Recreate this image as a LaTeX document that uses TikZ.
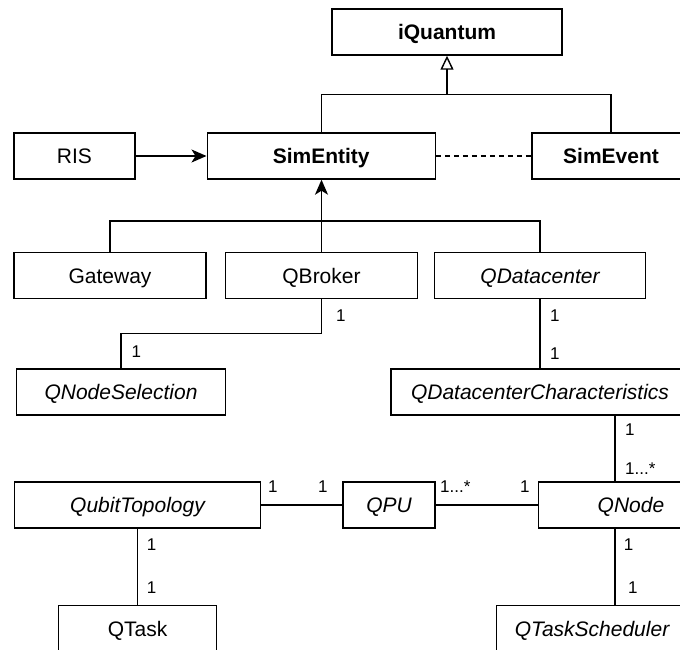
\documentclass[tikz,border=0pt]{standalone}
\usepackage{fontspec}
\setmainfont{Liberation Sans}
\usetikzlibrary{arrows.meta}
\tikzset{
  cls/.style={draw, line width=1.4pt, rectangle, inner sep=0pt, minimum height=46pt,
    text height=15pt, text depth=0pt, font=\fontsize{21}{24}\selectfont},
  clsb/.style={cls, font=\fontsize{21}{24}\selectfont\bfseries},
  clsi/.style={cls, font=\fontsize{21}{24}\selectfont\itshape},
  conn/.style={line width=1.4pt},
  mult/.style={anchor=base west, inner sep=0pt, font=\fontsize{17}{20}\selectfont},
  assoc/.style={conn, -{Stealth[length=15pt,width=13pt,inset=4pt]}},
  inherit/.style={conn, -{Triangle[open,length=14pt,width=13pt,line width=1.4pt]}}
}
\begin{document}
\begin{tikzpicture}[x=1pt,y=-1pt]
\useasboundingbox (0,0) rectangle (680,650);
\clip (0,0) rectangle (680,650);
\fill[white] (0,0) rectangle (680,650);
% classes
\node[clsb, minimum width=230pt] (iq) at (447,32) {iQuantum};
\node[clsb, minimum width=228pt] (se) at (321.2,156) {SimEntity};
\node[clsb, minimum width=158pt] (sev) at (611,156) {SimEvent};
\node[cls, minimum width=121pt] (ris) at (74.5,156) {RIS};
\node[cls, minimum width=192pt] (gw) at (110,275.5) {Gateway};
\node[cls, minimum width=192pt] (qb) at (321.5,275.5) {QBroker};
\node[clsi, minimum width=211.5pt] (qdc) at (540,275.5) {QDatacenter};
\node[clsi, minimum width=209pt] (qns) at (121,392) {QNodeSelection};
\node[clsi, minimum width=298pt] (qdcc) at (540,392) {QDatacenterCharacteristics};
\node[clsi, minimum width=246pt] (qt) at (137.5,505) {QubitTopology};
\node[clsi, minimum width=92pt] (qpu) at (389,505) {QPU};
\node[clsi, minimum width=185pt] (qn) at (631,505) {QNode};
\node[cls, minimum width=158pt] (qtask) at (137.6,628.7) {QTask};
\node[clsi, minimum width=191pt] (qts) at (592,628.7) {QTaskScheduler};
% junctions
\coordinate (j1) at (447,94.3);
\coordinate (j2) at (321.5,221);
\coordinate (jb) at (121,333.3);
\coordinate (vx) at (615,0);
% inheritance to iQuantum
\draw[conn] (se.north |- se.north) |- (j1) -| (sev.north);
\draw[inherit] (j1) -- (iq.south);
% RIS -> SimEntity
\draw[assoc] (ris.east) -- (se.west);
% dashed SimEntity -- SimEvent
\draw[conn, dashed, line width=1.2pt, dash pattern=on 5pt off 4pt] (se.east) -- (sev.west);
% Gateway, QBroker, QDatacenter -> SimEntity
\draw[conn] (gw.north) |- (j2) -| (qdc.north);
\draw[assoc] (qb.north) -- (qb.north |- se.south);
% QBroker -- QNodeSelection
\draw[conn] (qb.south) |- (jb) -- (qns.north);
\node[mult] at (336,321.7) {1};
\node[mult] at (131.4,357) {1};
% QDatacenter -- QDCC
\draw[conn] (qdc.south) -- (qdcc.north);
\node[mult] at (550,321.7) {1};
\node[mult] at (550,359) {1};
% QDCC -- QNode
\draw[conn] (qdcc.south -| vx) -- (qn.north -| vx);
\node[mult] at (625,435.7) {1};
\node[mult] at (625,474) {1...*};
% QubitTopology -- QPU -- QNode
\draw[conn] (qt.east) -- (qpu.west);
\draw[conn] (qpu.east) -- (qn.west);
\node[mult] at (268,492) {1};
\node[mult] at (318,492) {1};
\node[mult] at (440,492) {1...*};
\node[mult] at (520,492) {1};
% QubitTopology -- QTask
\draw[conn] (qtask.north) -- (qtask.north |- qt.south);
\node[mult] at (146.6,550) {1};
\node[mult] at (146.6,593.3) {1};
% QNode -- QTaskScheduler
\draw[conn] (qn.south -| vx) -- (qts.north -| vx);
\node[mult] at (623.6,550) {1};
\node[mult] at (628,593.3) {1};
\end{tikzpicture}
\end{document}
